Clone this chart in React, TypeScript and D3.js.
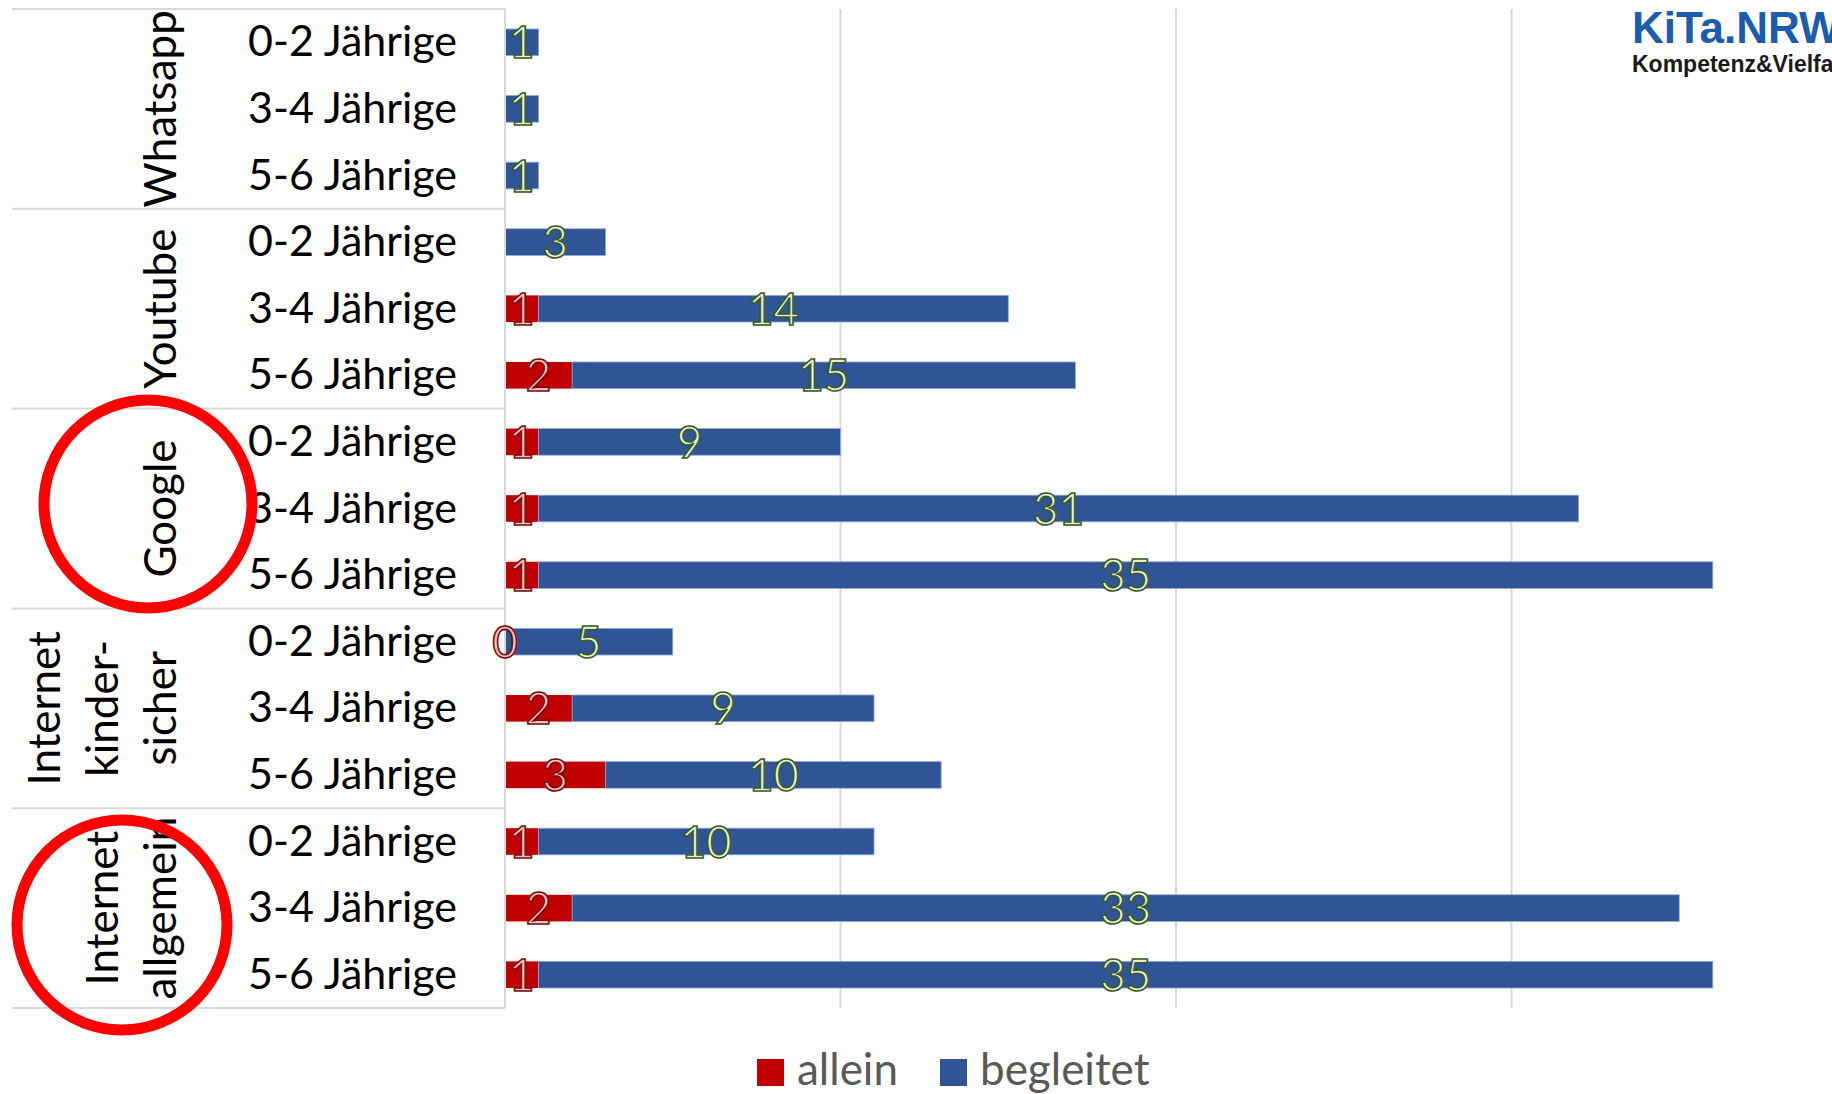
import React from "react";
import * as d3 from "d3";

const groupLabels: string[][] = [
  ["Whatsapp"],
  ["Youtube"],
  ["Google"],
  ["Internet", "kinder-", "sicher"],
  ["Internet", "allgemein"],
];
const ageGroups = ["0-2 Jährige", "3-4 Jährige", "5-6 Jährige"];
const allein: (number | null)[] = [null, null, null, null, 1, 2, 1, 1, 1, 0, 2, 3, 1, 2, 1];
const begleitet: number[] = [1, 1, 1, 3, 14, 15, 9, 31, 35, 5, 9, 10, 10, 33, 35];
const xTicks = [0, 10, 20, 30];
const legendItems = ["allein", "begleitet"];

const W = 1832;
const H = 1094;
const FONT = "Lato, 'Open Sans', sans-serif";
const RED = "#c00000";
const BLUE = "#2f5597";

export default function App() {
  const rows = d3.range(groupLabels.length * ageGroups.length);
  const x = d3.scaleLinear().domain([0, 40]).range([505, 1847]);
  const y = d3
    .scaleBand<number>()
    .domain(rows)
    .range([9, 1008])
    .paddingInner(0.6)
    .paddingOuter(0.3);
  const bh = y.bandwidth();
  const groupY = d3
    .scaleBand<number>()
    .domain(d3.range(groupLabels.length))
    .range([9, 1008]);

  const labelFs = 44;

  return (
    <div style={{ position: "absolute", left: 0, top: 0 }}>
      <svg width={W} height={H} style={{ display: "block", background: "#fff" }}>
        {/* gridlines */}
        {xTicks.map((t) => (
          <line
            key={"g" + t}
            x1={x(t)}
            x2={x(t)}
            y1={9}
            y2={1008}
            stroke="#d9d9d9"
            strokeWidth={2}
          />
        ))}
        {/* table separators */}
        {d3.range(groupLabels.length + 1).map((i) => {
          const yy = i === groupLabels.length ? 1008 : (groupY(i) as number);
          return (
            <line key={"s" + i} x1={12} x2={505} y1={yy} y2={yy} stroke="#d9d9d9" strokeWidth={2} />
          );
        })}
        {/* bars */}
        {rows.map((r) => {
          const a = allein[r] ?? 0;
          const y0 = y(r) as number;
          return (
            <g key={"b" + r}>
              {a > 0 && (
                <rect x={x(0)} y={y0} width={x(a) - x(0)} height={bh} fill={RED} />
              )}
              <rect
                x={x(a)}
                y={y0}
                width={x(a + begleitet[r]) - x(a)}
                height={bh}
                fill={BLUE}
                stroke="#8faadc"
                strokeWidth={0.8}
              />
            </g>
          );
        })}
        {/* category labels */}
        {rows.map((r) => (
          <text
            key={"c" + r}
            x={457}
            y={(y(r) as number) + bh / 2 + 14}
            textAnchor="end"
            fontFamily={FONT}
            fontSize={43}
            fill="#000"
          >
            {ageGroups[r % 3]}
          </text>
        ))}
        {/* group labels */}
        {groupLabels.map((lines, gi) => {
          const cy = (groupY(gi) as number) + groupY.bandwidth() / 2;
          return lines.map((ln, li) => {
            const bx = 176 - (lines.length - 1 - li) * 58;
            return (
              <text
                key={"gl" + gi + "_" + li}
                transform={`translate(${bx},${cy}) rotate(-90)`}
                textAnchor="middle"
                fontFamily={FONT}
                fontSize={labelFs}
                fill="#000"
              >
                {ln}
              </text>
            );
          });
        })}
        {/* axis line */}
        <line x1={x(0)} x2={x(0)} y1={9} y2={1008} stroke="#d9d9d9" strokeWidth={2} />
        {/* data labels */}
        {rows.map((r) => {
          const a = allein[r];
          const av = a ?? 0;
          const cy = (y(r) as number) + bh / 2 + 16;
          return (
            <g key={"l" + r} fontFamily={FONT} fontSize={labelFs} textAnchor="middle">
              {a !== null && (
                <text
                  x={(x(0) + x(av)) / 2}
                  y={cy}
                  fill="#f7c0c0"
                  stroke="#7a0c0c"
                  strokeWidth={1.6}
                >
                  {a}
                </text>
              )}
              <text
                x={(x(av) + x(av + begleitet[r])) / 2}
                y={cy}
                fill="#e4f0da"
                stroke="#3a5a1e"
                strokeWidth={1.6}
              >
                {begleitet[r]}
              </text>
            </g>
          );
        })}
        {/* red annotation circles */}
        <circle cx={148} cy={504} r={104} fill="none" stroke="#ff0000" strokeWidth={11} />
        <circle cx={122} cy={925} r={105} fill="none" stroke="#ff0000" strokeWidth={11} />
        {/* legend */}
        {legendItems.map((l, i) => {
          const lx = i === 0 ? 757 : 940;
          return (
            <g key={"lg" + i}>
              <rect x={lx} y={1059} width={27} height={27} fill={i === 0 ? RED : BLUE} />
              <text x={lx + 40} y={1085} fontFamily={FONT} fontSize={labelFs} fill="#595959">
                {l}
              </text>
            </g>
          );
        })}
        {/* logo */}
        <text
          x={1632}
          y={43}
          fontFamily="'Liberation Sans', Arial, sans-serif"
          fontWeight="bold"
          fontSize={44}
          fill="#1b5cad"
        >
          KiTa.NRW
        </text>
        <text
          x={1632}
          y={72}
          fontFamily="'Liberation Sans', Arial, sans-serif"
          fontWeight="bold"
          fontSize={23}
          fill="#1a1a1a"
        >
          Kompetenz&amp;Vielfalt
        </text>
      </svg>
    </div>
  );
}
